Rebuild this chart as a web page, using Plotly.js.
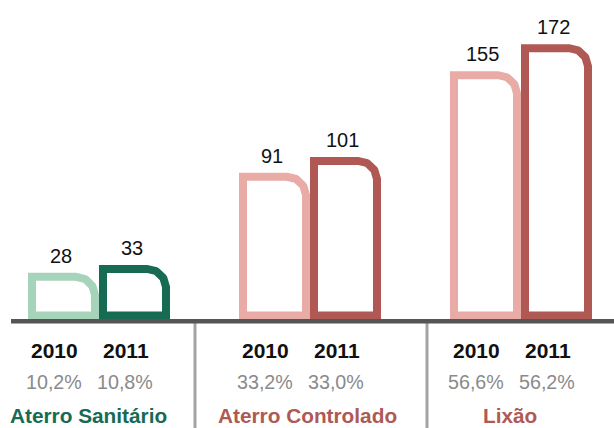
<!DOCTYPE html>
<html>
<head>
<meta charset="utf-8">
<script src="https://cdn.plot.ly/plotly-3.0.1.min.js"></script>
<style>
html,body{margin:0;padding:0;background:#fff;}
#chart{width:614px;height:428px;}
</style>
</head>
<body>
<div id="chart"></div>
<script>
// ---- data ----
const groups = ['Aterro Sanitário', 'Aterro Controlado', 'Lixão'];
const years = ['2010', '2011'];
const values2010 = [28, 91, 155];
const values2011 = [33, 101, 172];
const share2010 = ['10,2%', '33,2%', '56,6%'];
const share2011 = ['10,8%', '33,0%', '56,2%'];
const colors2010 = ['#a6d4bb', '#e9aba6'];
const colors2011 = ['#176b52', '#b05954'];
const groupColors = ['#176b52', '#b05954', '#b05954'];

// ---- layout helpers (pixel <-> data conversions) ----
const W = 614, H = 428;
const pxPerX = 211;          // pixels per group unit
const x0px = 99;             // pixel position of first group centre
const pxPerY = 1.588;        // pixels per value unit
const zeroPx = 321.3;        // pixel row of value 0
const xRange = [-x0px / pxPerX, (W - x0px) / pxPerX];
const yRange = [-(H - zeroPx) / pxPerY, zeroPx / pxPerY];

const halfOffset = 35.5 / pxPerX;   // bar centre offset from group centre
const halfW = 31.5 / pxPerX;        // half width of bar outline path
const bottomY = 5.8 / pxPerY;       // outline bottom, just above baseline
const rPx = 19;
const rx = rPx / pxPerX, ry = rPx / pxPerY;
const FONT = 'Liberation Sans, Arial, sans-serif';

function outline(c, v) {
  const L = c - halfW, R = c + halfW;
  const mid = (v + bottomY) / 2;
  const xs = [L, L], ys = [mid, v];
  const n = 30;
  for (let k = 0; k <= n; k++) {
    const t = Math.PI / 2 * (1 - k / n);
    xs.push(R - rx + rx * Math.cos(t));
    ys.push(v - ry + ry * Math.sin(t));
  }
  xs.push(R, L, L);
  ys.push(bottomY, bottomY, mid);
  return {xs, ys};
}

const traces = [];
const annotations = [];
const seriesVals = [values2010, values2011];
const seriesShare = [share2010, share2011];

groups.forEach((g, gi) => {
  seriesVals.forEach((vals, si) => {
    const c = gi + (si === 0 ? -halfOffset : halfOffset);
    const o = outline(c, vals[gi]);
    const col = si === 0 ? colors2010[gi === 0 ? 0 : 1] : colors2011[gi === 0 ? 0 : 1];
    traces.push({
      type: 'scatter', mode: 'lines', x: o.xs, y: o.ys,
      line: {color: col, width: 8, shape: 'linear'},
      hoverinfo: 'skip', showlegend: false, name: g + ' ' + years[si]
    });
    // value label
    annotations.push({
      xref: 'x', yref: 'y', x: c, y: vals[gi], yshift: 21, xshift: -3,
      text: String(vals[gi]), showarrow: false, xanchor: 'center', yanchor: 'middle',
      font: {family: FONT, size: 20, color: '#111'}
    });
    // year label
    annotations.push({
      xref: 'x', yref: 'paper', x: c, y: 1 - 350 / H, xshift: -9,
      text: '<b>' + years[si] + '</b>', showarrow: false, xanchor: 'center', yanchor: 'middle',
      font: {family: FONT, size: 21, color: '#111'}
    });
    // share label
    annotations.push({
      xref: 'x', yref: 'paper', x: c, y: 1 - 382 / H, xshift: -10,
      text: seriesShare[si][gi], showarrow: false, xanchor: 'center', yanchor: 'middle',
      font: {family: FONT, size: 19.7, color: '#8a8a8a'}
    });
  });
  annotations.push({
    xref: 'x', yref: 'paper', x: gi, y: 1 - 415 / H, xshift: gi === 1 ? -3 : -11,
    text: '<b>' + g + '</b>', showarrow: false, xanchor: 'center', yanchor: 'middle',
    font: {family: FONT, size: 20.8, color: groupColors[gi]}
  });
});

const dividerX = [(195 - x0px) / pxPerX, (427 - x0px) / pxPerX];
const shapes = dividerX.map(x => ({
  type: 'line', xref: 'x', yref: 'y', x0: x, x1: x, y0: 0, y1: yRange[0],
  line: {color: '#a3a3a3', width: 3}, layer: 'above'
}));
shapes.push({
  type: 'line', xref: 'paper', yref: 'y', x0: 11 / W, x1: 1, y0: 0, y1: 0,
  line: {color: '#555555', width: 4.5}, layer: 'above'
});

const layout = {
  width: W, height: H,
  margin: {l: 0, r: 0, t: 0, b: 0, pad: 0},
  paper_bgcolor: '#ffffff', plot_bgcolor: '#ffffff',
  xaxis: {range: xRange, visible: false, fixedrange: true},
  yaxis: {range: yRange, visible: false, fixedrange: true},
  showlegend: false,
  annotations: annotations,
  shapes: shapes
};

Plotly.newPlot('chart', traces, layout, {displayModeBar: false, staticPlot: true});
</script>
</body>
</html>
